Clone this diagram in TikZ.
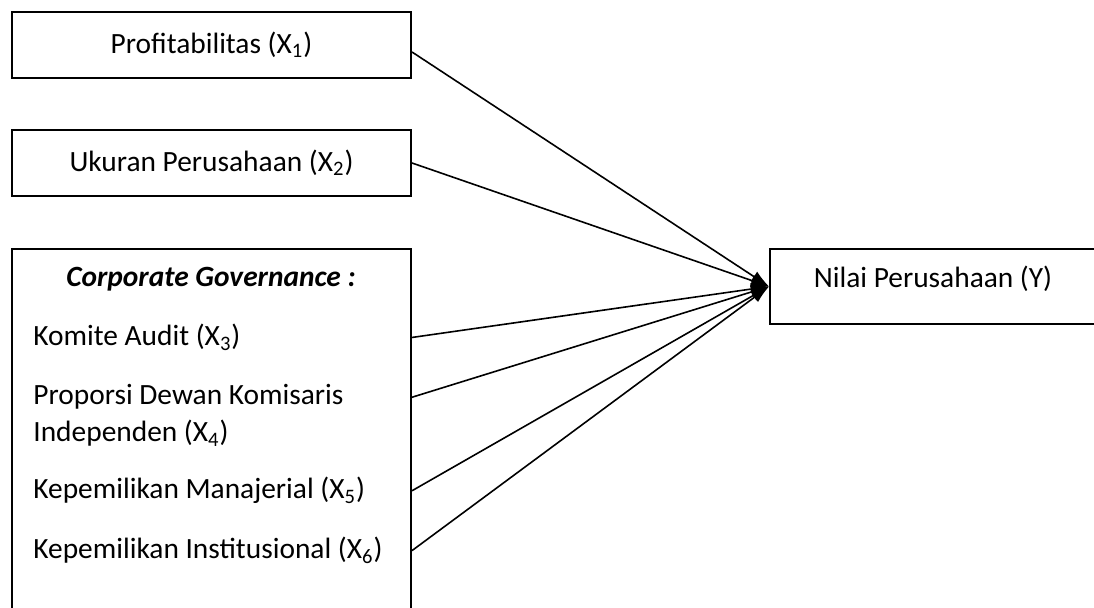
\documentclass[tikz,border=0pt]{standalone}
\usepackage{fontspec}
\setmainfont{Carlito}
\usetikzlibrary{positioning,arrows.meta}

\begin{document}
\begin{tikzpicture}[x=0.5pt,y=-0.5pt,font=\fontsize{14.7}{18}\selectfont,
	box/.style={rectangle, draw, line width=1pt, minimum width=199.5pt, minimum height=33pt},
	item/.style={anchor=base west, inner sep=0pt},
	link/.style={-{Latex[length=9pt,width=6pt]}, line width=0.8pt}]
	\useasboundingbox (0,0) rectangle (1094,608);
	\clip (0,0) rectangle (1094,608);
	\node[box](prof) at (211.5,45) {Profitabilitas (X\textsubscript{1})};
	\node[box](ukuran) [below=25pt of prof] {Ukuran Perusahaan (X\textsubscript{2})};
	\node[box, minimum height=200pt](cg) [below=25.5pt of ukuran] {};
	\node[box, minimum width=163pt, minimum height=37.5pt, text depth=10pt](nilai) [right=178.5pt of cg.north east, anchor=north west] {Nilai Perusahaan (Y)};
	% isi kotak corporate governance
	\node[font=\bfseries\itshape\fontsize{14.7}{18}\selectfont, anchor=base](judul) at (211,287) {Corporate Governance :};
	\node[item](ka) at (33,346) {Komite Audit (X\textsubscript{3})};
	\node[item](pd) at (33,405) {Proporsi Dewan Komisaris};
	\node[item](pdb) at (33,442) {Independen (X\textsubscript{4})};
	\node[item](km) at (33,499) {Kepemilikan Manajerial (X\textsubscript{5})};
	\node[item](ki) at (33,559) {Kepemilikan Institusional (X\textsubscript{6})};
	\draw[link] ([yshift=-3.5pt]prof.east) -- (nilai.west);
	\draw[link] (ukuran.east) -- (nilai.west);
	\foreach \v in {ka,pd,km,ki}
		\draw[link] (cg.east |- \v) -- (nilai.west);
\end{tikzpicture}
\end{document}
